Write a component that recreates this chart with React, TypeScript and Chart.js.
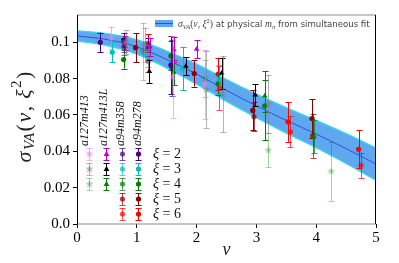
import React, { useEffect, useRef } from "react";
import { Chart, registerables } from "chart.js";
Chart.register(...registerables);

type Pt = [number, number, number]; // [nu, value, error]

// ---- data ----
const a127m413_xi2: Pt[] = [[0.57, 0.1025, 0.006], [1.6, 0.081, 0.0225], [2.14, 0.077, 0.019]];
const a127m413_xi3: Pt[] = [[0.82, 0.1, 0.0065], [1.13, 0.0985, 0.0095], [2.16, 0.074, 0.021], [2.44, 0.0715, 0.021], [3.2, 0.066, 0.016]];
const a127m413_xi4: Pt[] = [[1.1, 0.095, 0.0155], [2.14, 0.08, 0.01], [3.2, 0.0406, 0.0093], [4.25, 0.029, 0.0163]];
const a127m413L_xi2: Pt[] = [[0.8, 0.0995, 0.004], [1.22, 0.0975, 0.005], [1.62, 0.096, 0.007], [2.0, 0.0962, 0.005]];
const a127m413L_xi3: Pt[] = [[1.21, 0.084, 0.0065], [1.82, 0.0868, 0.005], [2.42, 0.083, 0.0085], [2.98, 0.071, 0.006]];
const a127m413L_xi4: Pt[] = [[1.62, 0.0835, 0.007], [3.14, 0.0705, 0.009]];
const a94m358_xi2: Pt[] = [[0.79, 0.0985, 0.004], [1.59, 0.086, 0.0155]];
const a94m358_xi3: Pt[] = [[1.19, 0.0925, 0.006], [2.38, 0.0795, 0.008]];
const a94m358_xi4: Pt[] = [[0.79, 0.097, 0.004], [3.96, 0.048, 0.0092]];
const a94m358_xi5: Pt[] = [[2.96, 0.059, 0.008], [3.94, 0.0486, 0.0122]];
const a94m358_xi6: Pt[] = [[1.19, 0.0896, 0.006], [2.38, 0.0748, 0.012], [3.57, 0.0507, 0.0085], [4.75, 0.0323, 0.007]];
const a94m278_xi2: Pt[] = [[0.39, 0.1, 0.0053], [0.78, 0.1012, 0.004], [1.18, 0.0975, 0.005], [1.57, 0.0875, 0.016]];
const a94m278_xi3: Pt[] = [[0.59, 0.0945, 0.0055], [1.18, 0.0965, 0.004], [1.77, 0.0855, 0.012]];
const a94m278_xi4: Pt[] = [[0.78, 0.0905, 0.005], [1.57, 0.0925, 0.008], [2.36, 0.0772, 0.006], [3.14, 0.065, 0.019]];
const a94m278_xi5: Pt[] = [[0.98, 0.097, 0.008], [1.96, 0.0828, 0.0072], [2.94, 0.0625, 0.011], [3.93, 0.058, 0.0107]];
const a94m278_xi6: Pt[] = [[1.18, 0.0994, 0.005], [2.36, 0.0825, 0.009], [3.53, 0.0562, 0.011], [4.71, 0.0411, 0.0105]];

const fitNu = [0, 0.5, 1, 1.5, 2, 2.5, 3, 3.5, 4, 4.5, 5];
const fitCentral = [0.1035, 0.1015, 0.0975, 0.0905, 0.0825, 0.0735, 0.065, 0.057, 0.0495, 0.0415, 0.033];
const fitHalfWidth = [0.0028, 0.0033, 0.004, 0.0047, 0.0055, 0.006, 0.0065, 0.007, 0.0075, 0.0082, 0.009];

const xTickValues = [0, 1, 2, 3, 4, 5];
const xTickLabels = ["0", "1", "2", "3", "4", "5"];
const yTickValues = [0, 0.02, 0.04, 0.06, 0.08, 0.1];
const yTickLabels = ["0.0", "0.02", "0.04", "0.06", "0.08", "0.1"];
const xRange = [0, 5];
const yRange = [0, 0.115];

const ensembleNames = ["a127m413", "a127m413L", "a94m358", "a94m278"];
const xiValues = [2, 3, 4, 5, 6];

type Series = { ens: number; xi: number; pts: Pt[]; color: string; alpha: number; marker: string };
const series: Series[] = [
  { ens: 0, xi: 2, pts: a127m413_xi2, color: "#ee82ee", alpha: 0.65, marker: "star" },
  { ens: 0, xi: 3, pts: a127m413_xi3, color: "#808080", alpha: 0.6, marker: "star" },
  { ens: 0, xi: 4, pts: a127m413_xi4, color: "#008000", alpha: 0.35, marker: "star" },
  { ens: 1, xi: 2, pts: a127m413L_xi2, color: "#c000c0", alpha: 1, marker: "triangle" },
  { ens: 1, xi: 3, pts: a127m413L_xi3, color: "#000000", alpha: 1, marker: "triangle" },
  { ens: 1, xi: 4, pts: a127m413L_xi4, color: "#008000", alpha: 1, marker: "triangle" },
  { ens: 2, xi: 2, pts: a94m358_xi2, color: "#4b0082", alpha: 0.7, marker: "circle" },
  { ens: 2, xi: 3, pts: a94m358_xi3, color: "#00bfbf", alpha: 0.7, marker: "circle" },
  { ens: 2, xi: 4, pts: a94m358_xi4, color: "#008000", alpha: 0.7, marker: "circle" },
  { ens: 2, xi: 5, pts: a94m358_xi5, color: "#8b0000", alpha: 0.7, marker: "circle" },
  { ens: 2, xi: 6, pts: a94m358_xi6, color: "#ff0000", alpha: 0.7, marker: "circle" },
  { ens: 3, xi: 2, pts: a94m278_xi2, color: "#4b0082", alpha: 1, marker: "circle" },
  { ens: 3, xi: 3, pts: a94m278_xi3, color: "#00bfbf", alpha: 1, marker: "circle" },
  { ens: 3, xi: 4, pts: a94m278_xi4, color: "#008000", alpha: 1, marker: "circle" },
  { ens: 3, xi: 5, pts: a94m278_xi5, color: "#8b0000", alpha: 1, marker: "circle" },
  { ens: 3, xi: 6, pts: a94m278_xi6, color: "#ff0000", alpha: 1, marker: "circle" },
];

const SERIF = '"Liberation Serif", "DejaVu Serif", serif';
const SANS = '"DejaVu Sans", "Liberation Sans", sans-serif';
const BAND_FILL = "#5fa7ef";
const BAND_EDGE = "#37d8ee";
const FIT_LINE = "#3451d6";

function rgba(hex: string, a: number) {
  const n = parseInt(hex.slice(1), 16);
  return `rgba(${(n >> 16) & 255},${(n >> 8) & 255},${n & 255},${a})`;
}

function makeStar(color: string, r: number) {
  const c = document.createElement("canvas");
  const s = Math.ceil(r * 2 + 2);
  c.width = s;
  c.height = s;
  const g = c.getContext("2d")!;
  g.fillStyle = color;
  g.beginPath();
  for (let i = 0; i < 10; i++) {
    const ang = -Math.PI / 2 + (i * Math.PI) / 5;
    const rad = i % 2 ? r * 0.42 : r;
    const x = s / 2 + rad * Math.cos(ang);
    const y = s / 2 + rad * Math.sin(ang);
    if (i === 0) g.moveTo(x, y);
    else g.lineTo(x, y);
  }
  g.closePath();
  g.fill();
  return c;
}

type Seg = { t: string; size: number; italic?: boolean; sans?: boolean; dy?: number };
function segFont(s: Seg, k: number) {
  return `${s.italic ? "italic " : ""}${s.size * k}px ${s.sans ? SANS : SERIF}`;
}
function richWidth(ctx: CanvasRenderingContext2D, segs: Seg[], k: number, gap = 0) {
  let w = 0;
  for (const s of segs) {
    ctx.font = segFont(s, k);
    w += ctx.measureText(s.t).width;
  }
  return w + gap * (segs.length - 1);
}
function drawRich(ctx: CanvasRenderingContext2D, segs: Seg[], x: number, y: number, k: number, gap = 0) {
  let cx = x;
  for (const s of segs) {
    ctx.font = segFont(s, k);
    ctx.fillText(s.t, cx, y + (s.dy || 0) * k);
    cx += ctx.measureText(s.t).width + gap;
  }
}

const legendSegs: Seg[] = [
  { t: "σ", size: 9, italic: true },
  { t: "VA", size: 6, italic: true, dy: 2 },
  { t: "(", size: 9 },
  { t: "ν", size: 9, italic: true },
  { t: ", ", size: 9 },
  { t: "ξ", size: 9, italic: true },
  { t: "2", size: 6, dy: -3.5 },
  { t: ")", size: 9 },
  { t: " at physical ", size: 8, sans: true },
  { t: "m", size: 9, italic: true },
  { t: "π", size: 6, italic: true, dy: 2 },
  { t: " from simultaneous fit", size: 8, sans: true },
];
const yTitleSegs: Seg[] = [
  { t: "σ", size: 22, italic: true },
  { t: "VA", size: 15, italic: true, dy: 5 },
  { t: "(", size: 22 },
  { t: "ν", size: 22, italic: true },
  { t: ", ", size: 22 },
  { t: "ξ", size: 22, italic: true },
  { t: "2", size: 15, dy: -8 },
  { t: ")", size: 22 },
];

export default function App() {
  const ref = useRef<HTMLCanvasElement>(null);
  useEffect(() => {
    document.body.style.margin = "0";
    const canvas = ref.current!;
    const stars: Record<string, HTMLCanvasElement> = {};
    const starFor = (s: Series) => {
      const key = s.color + s.alpha;
      if (!stars[key]) stars[key] = makeStar(rgba(s.color, s.alpha), 4.2);
      return stars[key];
    };

    const drawMarker = (ctx: CanvasRenderingContext2D, s: Series, x: number, y: number) => {
      ctx.fillStyle = rgba(s.color, s.alpha);
      if (s.marker === "star") {
        const img = starFor(s);
        ctx.drawImage(img, x - img.width / 2, y - img.height / 2);
      } else if (s.marker === "triangle") {
        const r = 3.2;
        ctx.beginPath();
        ctx.moveTo(x, y - r);
        ctx.lineTo(x + r * 0.9, y + r * 0.6);
        ctx.lineTo(x - r * 0.9, y + r * 0.6);
        ctx.closePath();
        ctx.fill();
      } else {
        ctx.beginPath();
        ctx.arc(x, y, 2.6, 0, Math.PI * 2);
        ctx.fill();
      }
    };
    const drawBar = (ctx: CanvasRenderingContext2D, color: string, x: number, y1: number, y2: number) => {
      ctx.strokeStyle = color;
      ctx.lineWidth = 1;
      ctx.beginPath();
      ctx.moveTo(x + 0.5, y1);
      ctx.lineTo(x + 0.5, y2);
      ctx.moveTo(x - 2.5, Math.round(y1) + 0.5);
      ctx.lineTo(x + 3.5, Math.round(y1) + 0.5);
      ctx.moveTo(x - 2.5, Math.round(y2) + 0.5);
      ctx.lineTo(x + 3.5, Math.round(y2) + 0.5);
      ctx.stroke();
    };

    const errPlugin = {
      id: "errbars",
      beforeDatasetDraw(chart: any, args: any) {
        const ds = chart.data.datasets[args.index];
        if (!ds.errs) return;
        const ctx: CanvasRenderingContext2D = chart.ctx;
        const xs = chart.scales.x, ys = chart.scales.y;
        const a = chart.chartArea;
        ctx.save();
        ctx.beginPath();
        ctx.rect(a.left, a.top, a.right - a.left, a.bottom - a.top);
        ctx.clip();
        ds.data.forEach((p: any, i: number) => {
          const px = Math.round(xs.getPixelForValue(p.x));
          const e = ds.errs[i];
          drawBar(ctx, ds.errColor, px, ys.getPixelForValue(p.y + e), ys.getPixelForValue(p.y - e));
        });
        ctx.restore();
      },
    };

    const decorPlugin = {
      id: "decor",
      afterDraw(chart: any) {
        const ctx: CanvasRenderingContext2D = chart.ctx;
        const a = chart.chartArea;
        ctx.save();
        // spines
        ctx.lineWidth = 1.2;
        ctx.strokeStyle = "#8c8c8c";
        ctx.beginPath();
        ctx.moveTo(a.left, a.top);
        ctx.lineTo(a.right, a.top);
        ctx.moveTo(a.left, a.bottom);
        ctx.lineTo(a.right, a.bottom);
        ctx.stroke();
        ctx.strokeStyle = "#000";
        ctx.lineWidth = 1;
        ctx.beginPath();
        ctx.moveTo(a.left + 0.5, a.top);
        ctx.lineTo(a.left + 0.5, a.bottom);
        ctx.moveTo(a.right - 0.5, a.top);
        ctx.lineTo(a.right - 0.5, a.bottom);
        ctx.stroke();

        // top legend
        ctx.fillStyle = "rgba(255,255,255,0.8)";
        ctx.fillRect(a.left + 74, a.top + 2, a.right - a.left - 77, 15);
        const py = a.top + 8;
        ctx.fillStyle = BAND_FILL;
        ctx.fillRect(a.left + 78, py - 3, 18, 7);
        ctx.strokeStyle = FIT_LINE;
        ctx.lineWidth = 1;
        ctx.beginPath();
        ctx.moveTo(a.left + 78, py + 0.5);
        ctx.lineTo(a.left + 96, py + 0.5);
        ctx.stroke();
        const w1 = richWidth(ctx, legendSegs, 1);
        const k = (a.right - 6 - (a.left + 101)) / w1;
        ctx.fillStyle = "#444";
        ctx.textBaseline = "alphabetic";
        drawRich(ctx, legendSegs, a.left + 101, py + 3.5, k);

        // marker table legend
        const colX = [12, 29, 45, 61];
        const rowY = (xi: number) => a.top + 139 + 15 * (xi - 2);
        series.forEach((s) => {
          const x = a.left + colX[s.ens];
          const y = rowY(s.xi);
          drawBar(ctx, rgba(s.color, s.alpha), x, y - 6, y + 6);
          drawMarker(ctx, s, x + 0.5, y);
        });
        ctx.fillStyle = "#111";
        ctx.textBaseline = "middle";
        xiValues.forEach((xi) => {
          drawRich(ctx, [{ t: "ξ", size: 14, italic: true }, { t: " = " + xi, size: 14 }], a.left + 76, rowY(xi) + 0.5, 1);
        });
        const labX = [8, 27, 44, 61];
        ensembleNames.forEach((name, i) => {
          ctx.save();
          ctx.translate(a.left + labX[i], a.top + 131);
          ctx.rotate(-Math.PI / 2);
          ctx.font = `italic 12px ${SERIF}`;
          ctx.textBaseline = "middle";
          ctx.textAlign = "left";
          ctx.fillText(name, 0, 0);
          ctx.restore();
        });

        // axis titles
        ctx.fillStyle = "#222";
        ctx.textBaseline = "middle";
        ctx.save();
        ctx.translate(25, 117);
        ctx.rotate(-Math.PI / 2);
        const base = richWidth(ctx, yTitleSegs, 1);
        const gap = Math.max(0, Math.min(1.5, (108 - base) / (yTitleSegs.length - 1)));
        const wy = richWidth(ctx, yTitleSegs, 1, gap);
        drawRich(ctx, yTitleSegs, -wy / 2, 0, 1, gap);
        ctx.restore();
        ctx.font = `italic 18px ${SERIF}`;
        ctx.textAlign = "center";
        ctx.fillText("ν", (a.left + a.right) / 2, 250);
        ctx.restore();
      },
    };

    const upper = fitNu.map((x, i) => ({ x, y: fitCentral[i] + fitHalfWidth[i] }));
    const lower = fitNu.map((x, i) => ({ x, y: fitCentral[i] - fitHalfWidth[i] }));
    const central = fitNu.map((x, i) => ({ x, y: fitCentral[i] }));

    const pointSets = series.map((s) => ({
      data: s.pts.map((p) => ({ x: p[0], y: p[1] })),
      errs: s.pts.map((p) => p[2]),
      errColor: rgba(s.color, s.alpha),
      showLine: false,
      pointStyle: s.marker === "star" ? starFor(s) : s.marker === "triangle" ? "triangle" : "circle",
      pointRadius: s.marker === "triangle" ? 3.2 : 2.6,
      pointBackgroundColor: rgba(s.color, s.alpha),
      pointBorderColor: rgba(s.color, s.alpha),
      pointBorderWidth: 0,
      order: 1,
    }));

    const chart = new Chart(canvas, {
      type: "scatter",
      data: {
        datasets: [
          { data: upper, showLine: true, borderColor: BAND_EDGE, borderWidth: 1.3, pointRadius: 0, fill: false, cubicInterpolationMode: "monotone", order: 10 },
          { data: lower, showLine: true, borderColor: BAND_EDGE, borderWidth: 1.3, pointRadius: 0, fill: "-1", backgroundColor: BAND_FILL, cubicInterpolationMode: "monotone", order: 10 },
          { data: central, showLine: true, borderColor: FIT_LINE, borderWidth: 1, pointRadius: 0, fill: false, cubicInterpolationMode: "monotone", order: 9 },
          ...pointSets,
        ] as any,
      },
      options: {
        responsive: false,
        animation: false,
        events: [],
        layout: { padding: { top: 15, right: 23, left: 0, bottom: 0 } },
        plugins: { legend: { display: false }, tooltip: { enabled: false } },
        scales: {
          x: {
            type: "linear",
            min: xRange[0],
            max: xRange[1],
            afterFit: (s: any) => { s.height = 39; },
            afterBuildTicks: (s: any) => { s.ticks = xTickValues.map((v) => ({ value: v })); },
            ticks: {
              callback: (v: any) => xTickLabels[xTickValues.indexOf(Number(v))] ?? "",
              font: { family: SERIF, size: 15 },
              color: "#000",
              padding: 1,
              maxRotation: 0,
            },
            grid: { display: true, drawOnChartArea: false, drawTicks: true, tickLength: 4, color: "#000" },
            border: { display: false },
          },
          y: {
            type: "linear",
            min: yRange[0],
            max: yRange[1],
            afterFit: (s: any) => { s.width = 77; },
            afterBuildTicks: (s: any) => { s.ticks = yTickValues.map((v) => ({ value: v })); },
            ticks: {
              callback: (v: any) => {
                const i = yTickValues.findIndex((t) => Math.abs(t - Number(v)) < 1e-9);
                return i >= 0 ? yTickLabels[i] : "";
              },
              font: { family: SERIF, size: 15 },
              color: "#000",
              padding: 3,
            },
            grid: { display: true, drawOnChartArea: false, drawTicks: true, tickLength: 4, color: "#000" },
            border: { display: false },
          },
        },
      },
      plugins: [errPlugin, decorPlugin],
    });
    return () => chart.destroy();
  }, []);
  return (
    <div style={{ width: 399, height: 263 }}>
      <canvas ref={ref} width={399} height={263} />
    </div>
  );
}
